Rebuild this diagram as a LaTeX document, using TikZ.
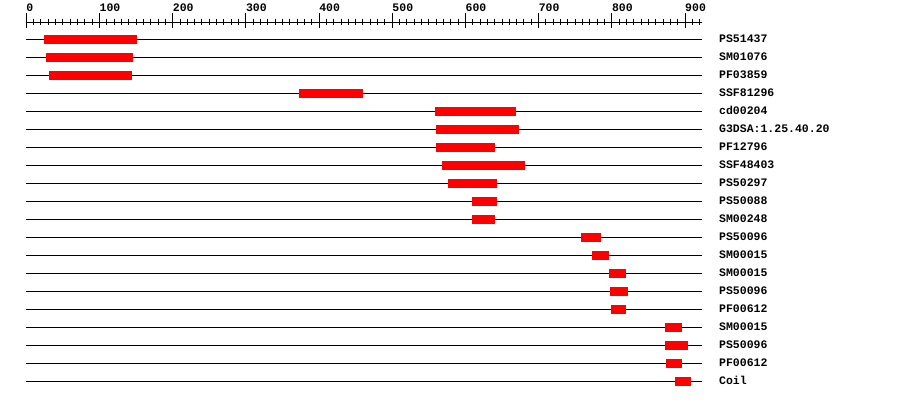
\documentclass[tikz,border=0pt]{standalone}
\usepackage{fontspec}
\setmonofont{Liberation Mono}

\begin{document}
\begin{tikzpicture}[x=1pt,y=-1pt,
    monotext/.style={font=\ttfamily\bfseries\fontsize{11.5}{12}\selectfont,inner sep=0pt},
    hit/.style={fill=red},
    track/.style={line width=1pt}]
    \useasboundingbox (0,0) rectangle (900,400);

    % 1 residue = 0.7319pt, residue 0 at 26.3pt
    \begin{scope}[xshift=26.3pt,x=0.7319pt]
    % axis with ticks
    \draw[track] (0,22) -- (923,22);
    \foreach \t in {0,10,...,920}
        \draw[track] (\t,19) -- (\t,25.3);
    \foreach \t in {0,100,...,900}{
        \draw[track] (\t,13.3) -- (\t,28.3);
        \node[monotext,anchor=base west] (tick\t) at (\t,11.7) {\t};
    }

    % one track per hit: name/start/end
    \foreach \name/\s/\e [count=\i from 0] in {
        PS51437/24/151, SM01076/27/146, PF03859/31/144,
        SSF81296/373/460, cd00204/558/669, G3DSA:1.25.40.20/560/673,
        PF12796/560/640, SSF48403/568/681, PS50297/576/643,
        PS50088/609/643, SM00248/609/640, PS50096/758/785,
        SM00015/773/796, SM00015/796/819, PS50096/797/822,
        PF00612/799/819, SM00015/873/896, PS50096/873/904,
        PF00612/874/896, Coil/886/908}{
        \pgfmathsetmacro\ry{39.3+18*\i}
        \draw[track] (0,\ry) -- (923,\ry);
        \fill[hit] (\s,\ry-4.4) rectangle (\e,\ry+4.4);
        \node[monotext,anchor=base west] (lab\i) at (946.4,\ry+3.5) {\name};
    }
    \end{scope}
\end{tikzpicture}
\end{document}
